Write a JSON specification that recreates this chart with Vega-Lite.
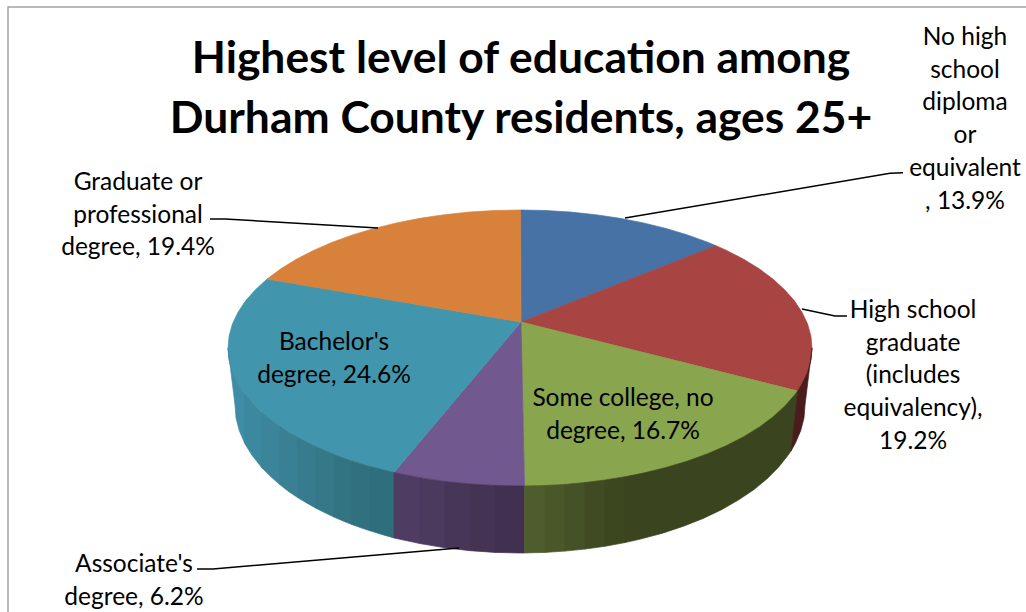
{"$schema":"https://vega.github.io/schema/vega-lite/v6.json","width":1026,"height":612,"padding":0,"autosize":{"type":"none"},"background":"white","view":{"stroke":null},
"title":{"text":["Highest level of education among","Durham County residents, ages 25+"],"font":"Lato","fontWeight":"bold","fontSize":44.4,"lineHeight":60,"color":"#000000","anchor":"middle","frame":"group","dx":8,"offset":-142},
"datasets":{
"frame":[{"seq":1,"x":8,"y":612},{"seq":2,"x":8,"y":7},{"seq":3,"x":1026,"y":7}],
"slices":[
{"category":"No high school diploma or equivalent","value":13.9,"label":"No high\nschool\ndiploma\nor\nequivalent\n, 13.9%","x":965,"y":38},
{"category":"High school graduate (includes equivalency)","value":19.2,"label":"High school\ngraduate\n(includes\nequivalency),\n19.2%","x":913,"y":311},
{"category":"Some college, no degree","value":16.7,"label":"Some college, no\ndegree, 16.7%","x":623,"y":399},
{"category":"Associate's degree","value":6.2,"label":"Associate's\ndegree, 6.2%","x":134,"y":565},
{"category":"Bachelor's degree","value":24.6,"label":"Bachelor's\ndegree, 24.6%","x":334,"y":343},
{"category":"Graduate or professional degree","value":19.4,"label":"Graduate or\nprofessional\ndegree, 19.4%","x":138,"y":183}],
"leaders":[
{"leader":"a","seq":1,"x":903,"y":172.7},{"leader":"a","seq":2,"x":890,"y":173.3},{"leader":"a","seq":3,"x":625,"y":218},
{"leader":"b","seq":1,"x":847,"y":316},{"leader":"b","seq":2,"x":835,"y":316},{"leader":"b","seq":3,"x":802,"y":309},
{"leader":"c","seq":1,"x":197,"y":569},{"leader":"c","seq":2,"x":213,"y":569},{"leader":"c","seq":3,"x":459,"y":548},
{"leader":"d","seq":1,"x":210,"y":219},{"leader":"d","seq":2,"x":225,"y":219},{"leader":"d","seq":3,"x":378,"y":228}],
"pieces":[
{"piece":"top1","seq":0,"x":521,"y":322},{"piece":"top1","seq":1,"x":520.5,"y":210},{"piece":"top1","seq":2,"x":545.5,"y":210.5},{"piece":"top1","seq":3,"x":570.7,"y":212.1},{"piece":"top1","seq":4,"x":595.6,"y":214.7},{"piece":"top1","seq":5,"x":619.9,"y":218.3},{"piece":"top1","seq":6,"x":643.4,"y":222.9},{"piece":"top1","seq":7,"x":666,"y":228.5},{"piece":"top1","seq":8,"x":687.5,"y":234.9},{"piece":"top1","seq":9,"x":707.7,"y":242.3},{"piece":"top1","seq":10,"x":716,"y":245.7},{"piece":"top1","seq":11,"x":521,"y":322},
{"piece":"top2","seq":0,"x":521,"y":322},{"piece":"top2","seq":1,"x":716,"y":245.7},{"piece":"top2","seq":2,"x":726.5,"y":250.4},{"piece":"top2","seq":3,"x":743.7,"y":259.3},{"piece":"top2","seq":4,"x":759.2,"y":268.8},{"piece":"top2","seq":5,"x":772.9,"y":279},{"piece":"top2","seq":6,"x":784.6,"y":289.7},{"piece":"top2","seq":7,"x":794.4,"y":300.8},{"piece":"top2","seq":8,"x":802,"y":312.3},{"piece":"top2","seq":9,"x":807.6,"y":324},{"piece":"top2","seq":10,"x":810.9,"y":336},{"piece":"top2","seq":11,"x":812,"y":348},{"piece":"top2","seq":12,"x":810.9,"y":360},{"piece":"top2","seq":13,"x":807.6,"y":372},{"piece":"top2","seq":14,"x":802,"y":383.7},{"piece":"top2","seq":15,"x":797.7,"y":391},{"piece":"top2","seq":16,"x":521,"y":322},
{"piece":"top3","seq":0,"x":521,"y":322},{"piece":"top3","seq":1,"x":797.7,"y":391},{"piece":"top3","seq":2,"x":794.4,"y":395.2},{"piece":"top3","seq":3,"x":784.6,"y":406.3},{"piece":"top3","seq":4,"x":772.9,"y":417},{"piece":"top3","seq":5,"x":759.2,"y":427.2},{"piece":"top3","seq":6,"x":743.7,"y":436.7},{"piece":"top3","seq":7,"x":726.5,"y":445.6},{"piece":"top3","seq":8,"x":707.7,"y":453.7},{"piece":"top3","seq":9,"x":687.5,"y":461.1},{"piece":"top3","seq":10,"x":666,"y":467.5},{"piece":"top3","seq":11,"x":643.4,"y":473.1},{"piece":"top3","seq":12,"x":619.9,"y":477.7},{"piece":"top3","seq":13,"x":595.6,"y":481.3},{"piece":"top3","seq":14,"x":570.7,"y":483.9},{"piece":"top3","seq":15,"x":545.5,"y":485.5},{"piece":"top3","seq":16,"x":524.5,"y":486},{"piece":"top3","seq":17,"x":521,"y":322},
{"piece":"top4","seq":0,"x":521,"y":322},{"piece":"top4","seq":1,"x":524.5,"y":486},{"piece":"top4","seq":2,"x":520,"y":486},{"piece":"top4","seq":3,"x":494.5,"y":485.5},{"piece":"top4","seq":4,"x":469.3,"y":483.9},{"piece":"top4","seq":5,"x":444.4,"y":481.3},{"piece":"top4","seq":6,"x":420.1,"y":477.7},{"piece":"top4","seq":7,"x":396.6,"y":473.1},{"piece":"top4","seq":8,"x":394,"y":472.5},{"piece":"top4","seq":9,"x":521,"y":322},
{"piece":"top5","seq":0,"x":521,"y":322},{"piece":"top5","seq":1,"x":394,"y":472.5},{"piece":"top5","seq":2,"x":374,"y":467.5},{"piece":"top5","seq":3,"x":352.5,"y":461.1},{"piece":"top5","seq":4,"x":332.3,"y":453.7},{"piece":"top5","seq":5,"x":313.5,"y":445.6},{"piece":"top5","seq":6,"x":296.3,"y":436.7},{"piece":"top5","seq":7,"x":280.8,"y":427.2},{"piece":"top5","seq":8,"x":267.1,"y":417},{"piece":"top5","seq":9,"x":255.4,"y":406.3},{"piece":"top5","seq":10,"x":245.6,"y":395.2},{"piece":"top5","seq":11,"x":238,"y":383.7},{"piece":"top5","seq":12,"x":232.4,"y":372},{"piece":"top5","seq":13,"x":229.1,"y":360},{"piece":"top5","seq":14,"x":228,"y":348},{"piece":"top5","seq":15,"x":229.1,"y":336},{"piece":"top5","seq":16,"x":232.4,"y":324},{"piece":"top5","seq":17,"x":238,"y":312.3},{"piece":"top5","seq":18,"x":245.6,"y":300.8},{"piece":"top5","seq":19,"x":255.4,"y":289.7},{"piece":"top5","seq":20,"x":267.1,"y":279},{"piece":"top5","seq":21,"x":521,"y":322},
{"piece":"top6","seq":0,"x":521,"y":322},{"piece":"top6","seq":1,"x":267.1,"y":279},{"piece":"top6","seq":2,"x":280.8,"y":268.8},{"piece":"top6","seq":3,"x":296.3,"y":259.3},{"piece":"top6","seq":4,"x":313.5,"y":250.4},{"piece":"top6","seq":5,"x":332.3,"y":242.3},{"piece":"top6","seq":6,"x":352.5,"y":234.9},{"piece":"top6","seq":7,"x":374,"y":228.5},{"piece":"top6","seq":8,"x":396.6,"y":222.9},{"piece":"top6","seq":9,"x":420.1,"y":218.3},{"piece":"top6","seq":10,"x":444.4,"y":214.7},{"piece":"top6","seq":11,"x":469.3,"y":212.1},{"piece":"top6","seq":12,"x":494.5,"y":210.5},{"piece":"top6","seq":13,"x":520.5,"y":210},{"piece":"top6","seq":14,"x":521,"y":322},
{"piece":"wallB1","seq":1,"x":228,"y":348},{"piece":"wallB1","seq":2,"x":229.1,"y":360},{"piece":"wallB1","seq":3,"x":232.4,"y":372},{"piece":"wallB1","seq":4,"x":238,"y":383.7},{"piece":"wallB1","seq":5,"x":245,"y":394.4},{"piece":"wallB1","seq":6,"x":245,"y":443.9},{"piece":"wallB1","seq":7,"x":239.3,"y":430.7},{"piece":"wallB1","seq":8,"x":236,"y":417.9},{"piece":"wallB1","seq":9,"x":235,"y":405},{"piece":"wallB1","seq":10,"x":228,"y":348},
{"piece":"wallB2","seq":1,"x":245,"y":394.4},{"piece":"wallB2","seq":2,"x":255.4,"y":406.3},{"piece":"wallB2","seq":3,"x":262,"y":412.6},{"piece":"wallB2","seq":4,"x":262,"y":467.9},{"piece":"wallB2","seq":5,"x":252.2,"y":455.6},{"piece":"wallB2","seq":6,"x":245,"y":443.9},{"piece":"wallB2","seq":7,"x":245,"y":394.4},
{"piece":"wallB3","seq":1,"x":262,"y":412.6},{"piece":"wallB3","seq":2,"x":271,"y":420},{"piece":"wallB3","seq":3,"x":280,"y":426.6},{"piece":"wallB3","seq":4,"x":280,"y":484.8},{"piece":"wallB3","seq":5,"x":271,"y":476.8},{"piece":"wallB3","seq":6,"x":262,"y":467.9},{"piece":"wallB3","seq":7,"x":262,"y":412.6},
{"piece":"wallB4","seq":1,"x":280,"y":426.6},{"piece":"wallB4","seq":2,"x":290,"y":433},{"piece":"wallB4","seq":3,"x":298,"y":437.6},{"piece":"wallB4","seq":4,"x":298,"y":497.8},{"piece":"wallB4","seq":5,"x":289,"y":491.8},{"piece":"wallB4","seq":6,"x":280,"y":484.8},{"piece":"wallB4","seq":7,"x":280,"y":426.6},
{"piece":"wallB5","seq":1,"x":298,"y":437.6},{"piece":"wallB5","seq":2,"x":307,"y":442.3},{"piece":"wallB5","seq":3,"x":316,"y":446.7},{"piece":"wallB5","seq":4,"x":316,"y":508.3},{"piece":"wallB5","seq":5,"x":307,"y":503.2},{"piece":"wallB5","seq":6,"x":298,"y":497.8},{"piece":"wallB5","seq":7,"x":298,"y":437.6},
{"piece":"wallB6","seq":1,"x":316,"y":446.7},{"piece":"wallB6","seq":2,"x":325,"y":450.6},{"piece":"wallB6","seq":3,"x":334,"y":454.4},{"piece":"wallB6","seq":4,"x":334,"y":517.1},{"piece":"wallB6","seq":5,"x":325,"y":512.8},{"piece":"wallB6","seq":6,"x":316,"y":508.3},{"piece":"wallB6","seq":7,"x":316,"y":446.7},
{"piece":"wallB7","seq":1,"x":334,"y":454.4},{"piece":"wallB7","seq":2,"x":343,"y":457.7},{"piece":"wallB7","seq":3,"x":352,"y":460.9},{"piece":"wallB7","seq":4,"x":352,"y":524.6},{"piece":"wallB7","seq":5,"x":343,"y":520.9},{"piece":"wallB7","seq":6,"x":334,"y":517.1},{"piece":"wallB7","seq":7,"x":334,"y":454.4},
{"piece":"wallB8","seq":1,"x":352,"y":460.9},{"piece":"wallB8","seq":2,"x":361,"y":463.7},{"piece":"wallB8","seq":3,"x":370,"y":466.4},{"piece":"wallB8","seq":4,"x":370,"y":530.8},{"piece":"wallB8","seq":5,"x":361,"y":527.8},{"piece":"wallB8","seq":6,"x":352,"y":524.6},{"piece":"wallB8","seq":7,"x":352,"y":460.9},
{"piece":"wallB9","seq":1,"x":370,"y":466.4},{"piece":"wallB9","seq":2,"x":382,"y":469.6},{"piece":"wallB9","seq":3,"x":394,"y":472.5},{"piece":"wallB9","seq":4,"x":394,"y":538},{"piece":"wallB9","seq":5,"x":382,"y":534.5},{"piece":"wallB9","seq":6,"x":370,"y":530.8},{"piece":"wallB9","seq":7,"x":370,"y":466.4},
{"piece":"wallA1","seq":1,"x":394,"y":472.5},{"piece":"wallA1","seq":2,"x":420,"y":477.7},{"piece":"wallA1","seq":3,"x":420,"y":543.6},{"piece":"wallA1","seq":4,"x":394,"y":538},{"piece":"wallA1","seq":5,"x":394,"y":472.5},
{"piece":"wallA2","seq":1,"x":420,"y":477.7},{"piece":"wallA2","seq":2,"x":445,"y":481.4},{"piece":"wallA2","seq":3,"x":445,"y":547.8},{"piece":"wallA2","seq":4,"x":420,"y":543.6},{"piece":"wallA2","seq":5,"x":420,"y":477.7},
{"piece":"wallA3","seq":1,"x":445,"y":481.4},{"piece":"wallA3","seq":2,"x":470,"y":484},{"piece":"wallA3","seq":3,"x":470,"y":550.7},{"piece":"wallA3","seq":4,"x":445,"y":547.8},{"piece":"wallA3","seq":5,"x":445,"y":481.4},
{"piece":"wallA4","seq":1,"x":470,"y":484},{"piece":"wallA4","seq":2,"x":495,"y":485.5},{"piece":"wallA4","seq":3,"x":495,"y":552.4},{"piece":"wallA4","seq":4,"x":470,"y":550.7},{"piece":"wallA4","seq":5,"x":470,"y":484},
{"piece":"wallA5","seq":1,"x":495,"y":485.5},{"piece":"wallA5","seq":2,"x":520,"y":486},{"piece":"wallA5","seq":3,"x":524.5,"y":486},{"piece":"wallA5","seq":4,"x":524.5,"y":553},{"piece":"wallA5","seq":5,"x":520,"y":553},{"piece":"wallA5","seq":6,"x":495,"y":552.4},{"piece":"wallA5","seq":7,"x":495,"y":485.5},
{"piece":"wallS1","seq":1,"x":524.5,"y":486},{"piece":"wallS1","seq":2,"x":545,"y":485.5},{"piece":"wallS1","seq":3,"x":545,"y":552.4},{"piece":"wallS1","seq":4,"x":524.5,"y":553},{"piece":"wallS1","seq":5,"x":524.5,"y":486},
{"piece":"wallS2","seq":1,"x":545,"y":485.5},{"piece":"wallS2","seq":2,"x":565,"y":484.4},{"piece":"wallS2","seq":3,"x":565,"y":551.1},{"piece":"wallS2","seq":4,"x":545,"y":552.4},{"piece":"wallS2","seq":5,"x":545,"y":485.5},
{"piece":"wallS3","seq":1,"x":565,"y":484.4},{"piece":"wallS3","seq":2,"x":585,"y":482.5},{"piece":"wallS3","seq":3,"x":585,"y":549.1},{"piece":"wallS3","seq":4,"x":565,"y":551.1},{"piece":"wallS3","seq":5,"x":565,"y":484.4},
{"piece":"wallS4","seq":1,"x":585,"y":482.5},{"piece":"wallS4","seq":2,"x":605,"y":480},{"piece":"wallS4","seq":3,"x":605,"y":546.3},{"piece":"wallS4","seq":4,"x":585,"y":549.1},{"piece":"wallS4","seq":5,"x":585,"y":482.5},
{"piece":"wallS5","seq":1,"x":605,"y":480},{"piece":"wallS5","seq":2,"x":625,"y":476.8},{"piece":"wallS5","seq":3,"x":625,"y":542.6},{"piece":"wallS5","seq":4,"x":605,"y":546.3},{"piece":"wallS5","seq":5,"x":605,"y":480},
{"piece":"wallS6","seq":1,"x":625,"y":476.8},{"piece":"wallS6","seq":2,"x":643.4,"y":473.1},{"piece":"wallS6","seq":3,"x":666,"y":467.5},{"piece":"wallS6","seq":4,"x":687.5,"y":461.1},{"piece":"wallS6","seq":5,"x":707.7,"y":453.7},{"piece":"wallS6","seq":6,"x":726.5,"y":445.6},{"piece":"wallS6","seq":7,"x":743.7,"y":436.7},{"piece":"wallS6","seq":8,"x":759.2,"y":427.2},{"piece":"wallS6","seq":9,"x":772.9,"y":417},{"piece":"wallS6","seq":10,"x":784.6,"y":406.3},{"piece":"wallS6","seq":11,"x":794.4,"y":395.2},{"piece":"wallS6","seq":12,"x":797.7,"y":391},{"piece":"wallS6","seq":13,"x":791,"y":451},{"piece":"wallS6","seq":14,"x":787.8,"y":455.6},{"piece":"wallS6","seq":15,"x":778.3,"y":467.5},{"piece":"wallS6","seq":16,"x":766.8,"y":479},{"piece":"wallS6","seq":17,"x":753.5,"y":489.9},{"piece":"wallS6","seq":18,"x":738.3,"y":500.1},{"piece":"wallS6","seq":19,"x":721.5,"y":509.7},{"piece":"wallS6","seq":20,"x":703.2,"y":518.4},{"piece":"wallS6","seq":21,"x":683.5,"y":526.2},{"piece":"wallS6","seq":22,"x":662.5,"y":533.2},{"piece":"wallS6","seq":23,"x":640.4,"y":539.1},{"piece":"wallS6","seq":24,"x":625,"y":542.6},{"piece":"wallS6","seq":25,"x":625,"y":476.8},
{"piece":"wallH","seq":1,"x":797.7,"y":391},{"piece":"wallH","seq":2,"x":802,"y":383.7},{"piece":"wallH","seq":3,"x":807.6,"y":372},{"piece":"wallH","seq":4,"x":810.9,"y":360},{"piece":"wallH","seq":5,"x":812,"y":348},{"piece":"wallH","seq":6,"x":805,"y":405},{"piece":"wallH","seq":7,"x":804,"y":417.9},{"piece":"wallH","seq":8,"x":800.7,"y":430.7},{"piece":"wallH","seq":9,"x":795.3,"y":443.3},{"piece":"wallH","seq":10,"x":791,"y":451},{"piece":"wallH","seq":11,"x":797.7,"y":391}
]},
"resolve":{"scale":{"x":"shared","y":"shared"}},
"layer":[
{"data":{"name":"frame"},"mark":{"type":"line","stroke":"#a3a3a3","strokeWidth":1.5},"encoding":{"order":{"field":"seq"},"x":{"field":"x","type":"quantitative","scale":{"domain":[0,1026],"nice":false,"zero":false},"axis":null},"y":{"field":"y","type":"quantitative","scale":{"domain":[0,612],"reverse":true,"nice":false,"zero":false},"axis":null}}},
{"data":{"name":"pieces"},"mark":{"type":"line","strokeWidth":0.7,"interpolate":"linear"},"encoding":{"order":{"field":"seq"},"x":{"field":"x","type":"quantitative"},"y":{"field":"y","type":"quantitative"},
"detail":{"field":"piece"},
"fill":{"field":"piece","type":"nominal","legend":null,"scale":{"domain":["top1","top2","top3","top4","top5","top6","wallB1","wallB2","wallB3","wallB4","wallB5","wallB6","wallB7","wallB8","wallB9","wallA1","wallA2","wallA3","wallA4","wallA5","wallS1","wallS2","wallS3","wallS4","wallS5","wallS6","wallH"],"range":["#4672A6","#A84542","#89A54E","#71588F","#4196AE","#D8813B","#3E8CA5","#3C889F","#3B8499","#398094","#377C8E","#357888","#337483","#31717F","#2F6E7D","#4E3C62","#4B395E","#483659","#453353","#423050","#4F5D2E","#4A5729","#455126","#404B23","#3C4720","#3A451F","#4A1C1C"]}},
"stroke":{"field":"piece","type":"nominal","legend":null,"scale":{"domain":["top1","top2","top3","top4","top5","top6","wallB1","wallB2","wallB3","wallB4","wallB5","wallB6","wallB7","wallB8","wallB9","wallA1","wallA2","wallA3","wallA4","wallA5","wallS1","wallS2","wallS3","wallS4","wallS5","wallS6","wallH"],"range":["#4672A6","#A84542","#89A54E","#71588F","#4196AE","#D8813B","#3E8CA5","#3C889F","#3B8499","#398094","#377C8E","#357888","#337483","#31717F","#2F6E7D","#4E3C62","#4B395E","#483659","#453353","#423050","#4F5D2E","#4A5729","#455126","#404B23","#3C4720","#3A451F","#4A1C1C"]}}}},
{"data":{"name":"leaders"},"mark":{"type":"line","stroke":"#000000","strokeWidth":1.5},"encoding":{"detail":{"field":"leader"},"order":{"field":"seq"},"x":{"field":"x","type":"quantitative"},"y":{"field":"y","type":"quantitative"}}},
{"data":{"name":"slices"},"mark":{"type":"text","font":"Lato","fontSize":24.5,"lineHeight":32.7,"lineBreak":"\n","align":"center","baseline":"middle","color":"#000000"},"encoding":{"x":{"field":"x","type":"quantitative"},"y":{"field":"y","type":"quantitative"},"text":{"field":"label"}}}
]}
